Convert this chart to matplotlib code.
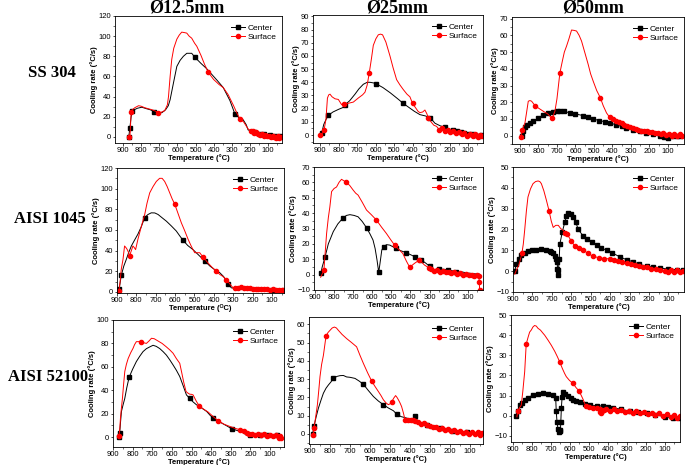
import numpy as np
import matplotlib
matplotlib.use("Agg")
import matplotlib.pyplot as plt
from matplotlib.ticker import AutoMinorLocator, MultipleLocator

plt.rcParams["font.family"] = ["Liberation Sans", "DejaVu Sans"]

# ---- SS 304, 12.5 mm ----
ss12_ct = [868, 866, 862, 855, 848, 838, 820, 796, 770, 750, 728, 710, 686, 665, 650, 640, 620, 603, 585, 567,
           548, 530, 521, 503, 470, 440, 420, 380, 347, 310, 283, 260, 237, 220, 210, 180, 146, 120, 90, 60, 35]
ss12_cr = [0, 3, 9, 20, 26, 27, 28.5, 29.5, 28, 27, 25, 24.5, 24, 27, 31, 37, 55, 70, 76, 80,
           83, 83, 83, 79, 73, 68, 64, 56, 49, 36, 23, 19, 17, 12, 7, 5, 3, 2.5, 1.5, 1, 0.5]
ss12_st = [866, 864, 860, 855, 848, 835, 814, 800, 780, 760, 740, 720, 705, 690, 670, 655, 649, 640, 631, 620,
           603, 590, 576, 560, 548, 535, 521, 505, 493, 470, 450, 429, 400, 370, 347, 320, 290, 270, 255, 235,
           210, 195, 185, 175, 164, 155, 145, 135, 125, 115, 105, 95, 85, 75, 65, 55, 45, 38, 30]
ss12_sr = [0, -2, 5, 25, 27, 29, 31, 30.5, 29, 28, 27, 25.5, 24, 24.5, 26, 32, 40, 60, 77, 88,
           97, 101, 104, 103.5, 103, 100, 98, 93, 90, 81, 72, 64, 57, 52, 49, 42, 31, 23, 18, 15,
           8, 6, 5.5, 4, 5, 3, 2, 2.5, 1, 1.5, 0.5, 1, -0.5, 1, 0, -1, 0.5, -1.5, 0]

# ---- SS 304, 25 mm ----
ss25_ct = [896, 891, 880, 867, 855, 830, 800, 774, 765, 740, 711, 690, 666, 645, 630, 610, 598, 560, 520, 480,
           450, 420, 390, 360, 330, 303, 279, 250, 225, 200, 180, 162, 140, 120, 100, 80, 60, 40, 25]
ss25_cr = [0, 1.5, 8, 12, 15, 17.5, 19.5, 21, 23, 26, 31, 35, 38.5, 40, 40, 39.5, 39, 36, 32, 27.5,
           24, 21, 18, 15.5, 14.5, 13, 9, 7, 6, 4.5, 3.5, 3, 2, 1.5, 0.5, 0.5, 0, -0.5, 0]
ss25_st = [900, 896, 878, 868, 860, 853, 846, 835, 819, 801, 783, 769, 750, 720, 694, 670, 657, 645, 634, 622,
           612, 598, 585, 573, 562, 544, 522, 505, 486, 468, 450, 430, 414, 400, 385, 370, 360, 345, 333, 322,
           315, 300, 285, 270, 255, 240, 225, 210, 195, 180, 165, 150, 135, 120, 105, 90, 75, 60, 45, 35, 25]
ss25_sr = [0, -1, 4, 12, 28, 30.5, 31, 29, 27.5, 27, 23, 23.5, 24, 25, 28, 30.5, 32.5, 38, 47, 58,
           68, 73, 76, 76.5, 76, 70.5, 60, 51, 42, 38, 34.5, 31, 29, 24, 21, 18, 17, 17.5, 19, 16,
           13, 10, 7.5, 6.6, 4, 5, 3, 4, 2, 3, 1.5, 2, 0.5, 1.5, -0.5, 1, -1, 0.5, -1.5, 0, -1]

# ---- SS 304, 50 mm ----
ss50_ct = [891, 886, 875, 864, 845, 828, 800, 774, 750, 720, 700, 684, 660, 630, 600, 558, 530, 504, 470, 440,
           414, 380, 350, 324, 290, 250, 216, 180, 144, 120, 100, 70, 50, 37]
ss50_cr = [0, 2.6, 5, 6.6, 7.5, 8.6, 10.5, 12.6, 13.5, 14, 14.5, 14.6, 14.5, 13.6, 13, 12, 11, 10, 9, 8.3,
           7.6, 6.5, 5.5, 4.6, 3.5, 2.5, 1.6, 0.8, -0.4, -1, -1.4, -0.5, 0, 0]
ss50_st = [896, 887, 873, 864, 855, 846, 837, 819, 800, 774, 750, 738, 729, 720, 711, 700, 684, 670, 660, 648,
           635, 621, 608, 594, 580, 567, 550, 531, 518, 504, 485, 465, 450, 432, 415, 396, 380, 365, 350, 335,
           320, 305, 290, 275, 260, 245, 230, 215, 200, 185, 170, 155, 140, 125, 110, 95, 80, 65, 50, 35, 22]
ss50_sr = [-0.8, 3.6, 7.6, 14, 20.6, 21, 20.6, 18, 16.5, 14.6, 13, 11.6, 10.6, 12, 14.6, 22, 37.6, 45, 50, 53.6,
           58, 63.2, 63, 62.6, 60, 56.6, 50, 42.6, 37, 32.6, 27, 22.6, 18, 13.6, 11, 10.2, 9, 8, 7.5, 6.5,
           6, 5, 4.6, 4, 3.5, 3, 2.8, 2.5, 2, 2.2, 1.5, 1.8, 1, 1.5, 0.5, 1.2, 0, 1, -0.5, 1, 0]

# ---- AISI 1045, 12.5 mm ----
a45_12_ct = [890, 889, 878, 865, 852, 840, 826, 810, 792, 775, 757, 740, 723, 705, 688, 665, 645, 620, 594, 575,
             559, 535, 508, 480, 447, 420, 395, 370, 350, 336, 327, 318, 310, 290, 267, 240, 210, 181, 150, 120,
             95, 70, 43]
a45_12_cr = [0, 2.6, 16, 25, 31.5, 38, 44.5, 50, 56, 63, 72, 75, 76.6, 76.5, 75, 71.5, 68.5, 64, 59, 54,
             50, 45, 41, 36, 30, 25, 21.5, 18.7, 15, 11, 8, 6, 4, 3.5, 3, 3, 2.8, 2.6, 2.4, 2.2,
             2, 1.8, 1.3]
a45_12_st = [890, 884, 878, 869, 861, 854, 847, 840, 835, 826, 818, 811, 804, 798, 792, 775, 757, 745, 731, 714,
             697, 680, 667, 654, 641, 628, 615, 602, 585, 568, 550, 533, 516, 499, 486, 473, 465, 456, 443, 430,
             410, 387, 370, 353, 336, 323, 310, 301, 290, 275, 260, 245, 230, 215, 200, 185, 170, 155, 140, 125,
             110, 95, 80, 65, 50, 43]
a45_12_sr = [1, 10, 22, 31.5, 44.5, 43, 41, 38, 35, 40, 44.5, 43, 41, 46, 51, 63, 75, 86, 96, 102,
             107, 110, 110, 107, 102, 96, 90, 85, 76, 67, 59, 51, 44, 38, 38, 38, 36, 34, 31, 28,
             24, 20, 17, 15, 12, 9, 6, 4, 3.5, 4, 4.5, 4, 3.5, 3.5, 3, 3.2, 2.6, 3, 2.5, 2.8,
             2.2, 2.5, 2, 2.3, 1.8, 2]

# ---- AISI 1045, 25 mm ----
a45_25_ct = [869, 862, 855, 848, 840, 830, 817, 804, 780, 752, 735, 717, 695, 674, 652, 630, 612, 596, 585, 575,
             570, 566, 562, 557, 550, 540, 525, 508, 490, 474, 450, 422, 400, 378, 360, 343, 320, 300, 283, 265,
             248, 225, 205, 180, 160, 143, 120, 100, 80, 60, 40]
a45_25_cr = [1, 5, 8, 11.2, 15, 20, 24, 28, 33, 37, 38.5, 39, 38.5, 37.6, 34.5, 30.5, 26.5, 22.5, 17, 9.5,
             5, 1.7, 5, 9.5, 16, 18.2, 19.5, 19.2, 18, 17, 15.5, 14.3, 13, 11.7, 10.5, 9.5, 7.5, 5.5, 3, 3.2,
             3.5, 3.5, 3, 2.5, 2, 2, 1.5, 1, 0.8, 0.5, 0.4]
a45_25_st = [870, 862, 853, 846, 839, 830, 822, 813, 800, 787, 774, 761, 748, 735, 718, 700, 687, 674, 652, 630,
             605, 578, 552, 526, 505, 483, 462, 440, 422, 404, 392, 378, 365, 353, 340, 327, 305, 290, 275, 260,
             245, 230, 215, 200, 185, 170, 155, 140, 125, 110, 95, 80, 65, 50, 42, 39, 38]
a45_25_sr = [-1.7, 0.5, 3, 15, 26.8, 37, 44, 54, 56, 57, 60, 62, 61, 60, 58, 55, 53, 51.7, 47, 42,
             39, 35.5, 31, 26.8, 23, 19.2, 16.5, 13.8, 9, 4.8, 6, 7.4, 8.5, 9.5, 8, 6.3, 4.5, 3.5, 2.5, 3,
             2, 2.5, 1.5, 2, 1, 1.5, 0.5, 1, 0, 0.5, -0.5, 0, -1, -0.5, -1, -5, -10]

# ---- AISI 1045, 50 mm ----
a45_50_ct = [891, 883, 870, 857, 840, 823, 800, 780, 755, 728, 710, 702, 693, 685, 678, 672, 671, 668, 666, 662,
             659, 646, 633, 625, 616, 603, 590, 577, 564, 540, 518, 495, 470, 445, 418, 390, 349, 315, 280, 250,
             212, 180, 143, 100, 57, 25]
a45_50_cr = [0, 3.6, 6, 7.6, 8.8, 9.5, 10, 10.2, 10.5, 10, 9.8, 9.2, 8.5, 7.1, 6, 4.6, 1, -2, 0.4, 6,
             12.9, 19, 23.6, 26.5, 28, 27.5, 26, 23.5, 20, 17, 15.5, 14, 12.5, 11.2, 10, 8.8, 6.8, 5.5, 4.4, 3.3,
             2.3, 2, 1.5, 1, 0.7, 0.5]
a45_50_st = [891, 883, 870, 861, 854, 847, 840, 831, 823, 810, 797, 784, 771, 762, 754, 741, 728, 714, 703, 693,
             680, 667, 655, 642, 630, 621, 600, 582, 560, 539, 515, 487, 460, 430, 401, 380, 360, 338, 315, 292,
             270, 250, 229, 210, 190, 165, 143, 120, 100, 85, 70, 55, 40, 25]
a45_50_sr = [-1.5, 0.4, 3, 6, 8.7, 13, 19.6, 29, 35.6, 39.5, 42, 43, 43.3, 43, 42, 38.5, 34, 28.8, 24, 21,
             22, 22, 20.5, 19.6, 18.5, 17.7, 14.5, 12, 11, 10.3, 8.5, 7.1, 6.5, 6, 6, 5.5, 5, 4.5, 3.9, 3.5,
             3, 2.5, 2, 1.8, 1.2, 0.8, 0.4, 0, -0.2, 0.5, -0.4, 0.5, -0.5, 0]

# ---- AISI 52100, 12.5 mm ----
a52_12_ct = [869, 866, 862, 857, 848, 840, 830, 818, 800, 781, 764, 747, 730, 713, 696, 680, 662, 645, 628, 611,
             594, 577, 560, 543, 526, 509, 492, 475, 450, 423, 405, 389, 370, 347, 320, 296, 275, 253, 235, 219,
             200, 185, 150, 117, 90, 66, 45]
a52_12_cr = [0, 3.4, 12, 21.9, 28, 33, 42, 51, 58, 64.5, 69, 73, 75.5, 77, 78.4, 77.5, 75.6, 73, 70, 66,
             61.6, 57, 51.7, 44, 36, 33, 30, 27.6, 25, 21.9, 18.5, 16.2, 14, 12, 9.5, 7.1, 6, 4.8, 3.5, 1.4,
             2, 2, 2, 2, 1.8, 1.4, 1.5]
a52_12_st = [872, 869, 865, 862, 857, 852, 846, 840, 832, 823, 810, 798, 790, 781, 768, 755, 742, 730, 717, 704,
             690, 670, 650, 628, 611, 594, 577, 560, 551, 540, 528, 518, 509, 500, 492, 483, 475, 461, 440, 415,
             390, 364, 335, 304, 280, 253, 235, 219, 205, 190, 175, 160, 145, 130, 117, 100, 85, 70, 57, 50, 45]
a52_12_sr = [2, 1.1, 8, 16.2, 25, 33, 45, 56, 62, 67, 72, 75.8, 79, 81.5, 81.5, 81.5, 80.5, 80, 82, 84.4,
             84, 82, 80, 77, 74.5, 71.6, 67, 63, 55.9, 47, 38.9, 37.5, 36.6, 36.5, 36, 33, 30.4, 26.7, 24, 21.3,
             17.5, 13.9, 11, 9, 7.5, 6.3, 5, 3.4, 2.5, 2.8, 1.8, 2.5, 1.5, 2.2, 1.2, 2, 0.5, 1.5, -0.8, 0.5, -1]

# ---- AISI 52100, 25 mm ----
a52_25_ct = [887, 880, 870, 858, 845, 833, 820, 808, 795, 783, 765, 750, 733, 717, 700, 675, 655, 633, 610, 583,
             558, 533, 508, 483, 467, 445, 417, 400, 383, 378, 375, 370, 363, 340, 317, 290, 270, 250, 220, 200,
             183, 160, 140, 117, 100, 80, 60, 50, 40]
a52_25_cr = [0, 4.2, 9, 14.1, 18.5, 22.3, 25, 26.8, 28.5, 30.5, 31.5, 31.9, 32, 31.2, 31, 30.4, 29, 27.2, 24, 20.5,
             18, 16, 14.2, 12.7, 10.9, 9.5, 8.7, 8.2, 7.8, 9, 9.6, 9, 7.3, 6, 5.1, 4.5, 3.8, 3.3, 2.6, 2.2,
             1.8, 1.5, 1.2, 1.1, 0.9, 0.8, 0.7, 0.6, 0.7]
a52_25_st = [883, 880, 872, 863, 856, 850, 842, 833, 820, 810, 800, 789, 778, 768, 758, 740, 717, 692, 667, 650,
             633, 612, 592, 575, 558, 545, 533, 520, 508, 500, 492, 482, 472, 465, 458, 450, 442, 433, 425, 410,
             395, 383, 375, 360, 345, 330, 315, 300, 285, 270, 255, 240, 225, 210, 195, 180, 165, 150, 135, 120,
             105, 90, 75, 60, 50, 40]
a52_25_sr = [-0.7, 3.3, 9, 16, 24, 31.4, 38, 43, 53.5, 55.5, 56.7, 58, 58.5, 58, 56.7, 54.5, 52.2, 50, 47.7, 43,
             38.6, 33.5, 29, 26, 23.2, 21, 18.7, 17, 16, 16.5, 17.4, 19.5, 21, 20, 18.7, 17, 15, 11.5, 7.8, 7.8,
             7.8, 7.5, 6.9, 6.5, 5.5, 5.8, 4.8, 4.5, 3.6, 4, 2.8, 3.3, 2.2, 2.6, 1.5, 2, 1, 1.6, 0.5, 1.2,
             0, 1, -0.2, 0.8, -0.5, 0.5]

# ---- AISI 52100, 50 mm ----
a52_50_ct = [882, 875, 865, 852, 838, 820, 795, 770, 742, 715, 689, 675, 672, 668, 663, 657, 652, 650, 648, 645,
             641, 636, 625, 610, 595, 584, 566, 548, 520, 496, 460, 425, 400, 373, 330, 285, 240, 197, 150, 100,
             60, 21]
a52_50_cr = [0, 2.5, 5.3, 6.5, 7.8, 9, 10.3, 10.8, 11.1, 11, 10.3, 9, 2.3, -3, -6.5, -8, -7.5, -7, -3, 4,
             9.5, 11.6, 11, 10, 9, 7.8, 7.4, 7, 6, 5.3, 5, 4.8, 4.4, 4, 3.2, 2.3, 1.8, 1.2, 0.5, -0.5,
             -1, -1.3]
a52_50_st = [879, 874, 865, 856, 848, 838, 830, 820, 812, 803, 795, 786, 777, 768, 755, 742, 733, 715, 698, 680,
             667, 654, 640, 628, 619, 602, 584, 568, 552, 540, 530, 522, 514, 500, 480, 460, 443, 440, 438, 432,
             420, 408, 390, 370, 350, 330, 310, 290, 270, 250, 230, 210, 190, 170, 150, 130, 110, 90, 70, 50,
             35, 21]
a52_50_sr = [-0.5, 2.3, 4, 5.3, 12, 21.9, 35.6, 39, 41.5, 42.6, 44, 44.8, 44.5, 43.4, 42.5, 41, 40, 37.5, 35, 32,
             29.5, 26.8, 23.5, 21, 19.4, 17.5, 16.1, 14, 12.3, 10, 8, 6, 5, 4.5, 4, 3.8, 3.6, 2, 1.2, 2.5,
             3, 3.3, 2.5, 3.2, 2.2, 3, 2, 2.5, 1.5, 2.2, 1.2, 1.8, 1, 1.5, 0.5, 1.2, 0, 0.8, -0.5, 0.5,
             -1, 0]

rows = ["SS 304", "AISI 1045", "AISI 52100"]
cols = ["Ø12.5mm", "Ø25mm", "Ø50mm"]

# marker positions: (temps nearest to which a marker is drawn, draw all markers below this temp)
panels = [
    # row, col, center, surface, box(px: l,t,r,b), xlim, ylim, ystep, center marks, surface marks
    (0, 0, (ss12_ct, ss12_cr), (ss12_st, ss12_sr), (115, 16, 282, 143), (944, 23), (-6, 120), 20,
     ([868, 862, 848, 728, 503, 283], 190), ([866, 855, 705, 429, 255], 200)),
    (0, 1, (ss25_ct, ss25_cr), (ss25_st, ss25_sr), (313, 15, 483, 143), (938, 19), (-6, 91), 10,
     ([891, 855, 765, 598, 450, 303, 225], 190), ([900, 878, 769, 634, 400, 315], 260)),
    (0, 2, (ss50_ct, ss50_cr), (ss50_st, ss50_sr), (512, 17, 684, 144), (943, 13), (-5, 71), 10,
     ([], 1000), ([896, 887, 819, 729, 684, 465], 420)),
    (1, 0, (a45_12_ct, a45_12_cr), (a45_12_st, a45_12_sr), (117, 168, 284, 293), (900, 38), (-1, 120), 20,
     ([889, 878, 757, 559, 447, 327, 95], 0), ([890, 835, 602, 456, 387, 336], 300)),
    (1, 1, (a45_25_ct, a45_25_cr), (a45_25_st, a45_25_sr), (314, 167, 483, 290), (905, 20), (-10, 70), 10,
     ([869, 848, 752, 630, 566, 540, 474, 422, 378, 343, 300, 248, 205, 160], 0),
     ([853, 735, 578, 483, 404, 353], 320)),
    (1, 2, (a45_50_ct, a45_50_cr), (a45_50_st, a45_50_sr), (513, 167, 684, 292), (900, 20), (-10, 50), 10,
     ([], 1000), ([854, 714], 640)),
    (2, 0, (a52_12_ct, a52_12_cr), (a52_12_st, a52_12_sr), (113, 320, 284, 447), (900, 29), (-8.5, 100), 20,
     ([869, 866, 818, 509, 389, 296, 200, 150, 117, 66], 0), ([869, 755, 461, 364], 260)),
    (2, 1, (a52_25_ct, a52_25_cr), (a52_25_st, a52_25_sr), (309, 317, 483, 444), (905, 35), (-5.5, 64), 10,
     ([887, 880, 783, 633, 533, 467, 375, 317, 250, 183, 117], 0), ([883, 880, 820, 592, 492], 430)),
    (2, 2, (a52_50_ct, a52_50_cr), (a52_50_st, a52_50_sr), (511, 315, 680, 442), (910, 21), (-13, 50), 10,
     ([], 1000), ([874, 830, 654, 584, 552], 520)),
]

W, H = 685, 465
fig = plt.figure(figsize=(W / 100, H / 100), dpi=100)


def mark_idx(temps, spec):
    marks, below = spec
    t = np.asarray(temps)
    idx = {int(np.argmin(np.abs(t - m))) for m in marks}
    idx |= {i for i, v in enumerate(t) if v < below}
    return sorted(idx)


for r, c, cen, sur, box, xlim, ylim, ystep, cmk, smk in panels:
    l, t, rr, b = box
    ax = fig.add_axes([l / W, 1 - b / H, (rr - l) / W, (b - t) / H])
    ax.plot(cen[0], cen[1], color="black", lw=0.7, marker="s", ms=2.6,
            markevery=mark_idx(cen[0], cmk), label="Center")
    ax.plot(sur[0], sur[1], color="red", lw=0.7, marker="o", ms=3.0,
            markevery=mark_idx(sur[0], smk), label="Surface")
    ax.set_xlim(*xlim)
    ax.set_ylim(*ylim)
    ax.xaxis.set_major_locator(MultipleLocator(100))
    ax.yaxis.set_major_locator(MultipleLocator(ystep))
    ax.xaxis.set_minor_locator(AutoMinorLocator(2))
    ax.yaxis.set_minor_locator(AutoMinorLocator(2))
    ax.tick_params(which="major", labelsize=5.5, length=1.8, width=0.5, pad=1)
    ax.tick_params(which="minor", length=1.1, width=0.4)
    for s in ax.spines.values():
        s.set_linewidth(0.6)
    xl = "Temperature (\u1d3cC)" if (r, c) == (1, 0) else "Temperature (°C)"
    ax.set_xlabel(xl, fontsize=5.5, fontweight="bold", labelpad=0)
    ax.set_ylabel("Cooling rate (°C/s)", fontsize=5.5, fontweight="bold", labelpad=0.5)
    ax.legend(loc="upper right", bbox_to_anchor=(1.0, 0.98), fontsize=6, frameon=False,
              handlelength=1.6, handletextpad=0.3, labelspacing=0.15, borderpad=0.2)

col_x = [187, 397, 593]
for name, x in zip(cols, col_x):
    fig.text(x / W, 1 - 8 / H, name, ha="center", va="center", fontsize=13, fontweight="bold",
             family="Liberation Serif")

row_x = [52, 50, 48]
row_y = [73, 219, 377]
for name, x, y in zip(rows, row_x, row_y):
    fig.text(x / W, 1 - y / H, name, ha="center", va="center", fontsize=12, fontweight="bold",
             family="Liberation Serif")

fig.savefig("out.png", dpi=100)
